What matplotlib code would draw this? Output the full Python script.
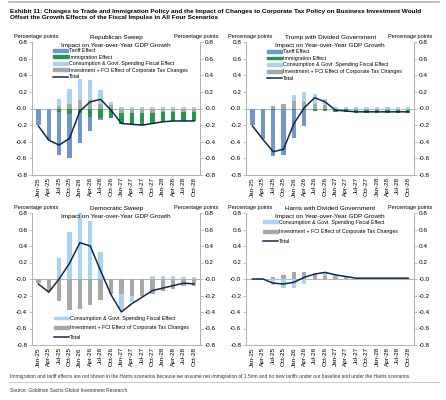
import numpy as np
import matplotlib
matplotlib.use("Agg")
from matplotlib import pyplot as plt
from matplotlib import font_manager
from matplotlib.patches import Patch
from matplotlib.lines import Line2D

plt.rcParams['font.family'] = ['Liberation Sans', 'DejaVu Sans']

quarters = ['Jan-25', 'Apr-25', 'Jul-25', 'Oct-25', 'Jan-26', 'Apr-26', 'Jul-26', 'Oct-26',
            'Jan-27', 'Apr-27', 'Jul-27', 'Oct-27', 'Jan-28', 'Apr-28', 'Jul-28', 'Oct-28']

# Republican Sweep
rep_tariff = [-0.19, -0.37, -0.52, -0.52, -0.35, -0.17, -0.02, 0, 0, 0, 0, 0, 0, 0, 0, 0]
rep_immig = [-0.01, -0.01, -0.04, -0.07, -0.06, -0.10, -0.12, -0.12, -0.14, -0.15, -0.15, -0.13, -0.12, -0.11, -0.11, -0.11]
rep_cons = [0, 0, 0.09, 0.17, 0.25, 0.24, 0.16, 0.04, 0.02, 0.02, 0.02, 0.02, 0.02, 0.02, 0.02, 0.02]
rep_inv = [0, 0, 0.03, 0.06, 0.10, 0.10, 0.06, 0.04, -0.05, -0.05, -0.05, -0.05, -0.04, -0.04, -0.04, -0.04]
rep_total = [-0.21, -0.38, -0.44, -0.36, -0.03, 0.08, 0.11, -0.02, -0.18, -0.19, -0.20, -0.18, -0.16, -0.15, -0.15, -0.15]

# Trump with Divided Government
tdg_tariff = [-0.20, -0.37, -0.55, -0.55, -0.34, -0.19, 0, 0, 0, 0, 0, 0, 0, 0, 0, 0]
tdg_immig = [0, 0, -0.02, -0.01, -0.02, -0.02, -0.03, -0.03, -0.03, -0.03, -0.03, -0.03, -0.03, -0.03, -0.03, -0.03]
tdg_cons = [0, 0, 0, 0, 0.07, 0.12, 0.11, 0.08, 0.02, 0.02, 0.02, 0.02, 0.02, 0.02, 0.02, 0.02]
tdg_inv = [0, 0, 0.03, 0.05, 0.09, 0.08, 0.06, 0.04, -0.01, -0.01, -0.02, -0.02, -0.02, -0.02, -0.02, -0.02]
tdg_total = [-0.21, -0.37, -0.52, -0.49, -0.18, 0.01, 0.13, 0.08, -0.02, -0.03, -0.04, -0.04, -0.04, -0.04, -0.04, -0.04]

# Democratic Sweep
dem_cons = [0, 0, 0.26, 0.57, 0.80, 0.70, 0.33, 0, -0.20, -0.08, 0, 0.04, 0.04, 0.04, 0.03, 0.03]
dem_inv = [-0.05, -0.14, -0.27, -0.38, -0.36, -0.31, -0.25, -0.18, -0.18, -0.20, -0.20, -0.18, -0.15, -0.12, -0.08, -0.08]
dem_total = [-0.06, -0.16, 0.00, 0.19, 0.44, 0.40, 0.10, -0.19, -0.40, -0.30, -0.22, -0.14, -0.11, -0.08, -0.05, -0.06]

# Harris with Divided Government
har_cons = [0, 0, -0.07, -0.11, -0.11, -0.06, 0, 0.04, 0.03, 0.02, 0.01, 0.01, 0.01, 0.01, 0.01, 0.01]
har_inv = [0, 0, 0.03, 0.05, 0.08, 0.08, 0.06, 0.04, 0.02, 0.01, 0, 0, 0, 0, 0, 0]
har_total = [0, 0, -0.05, -0.06, -0.04, 0.02, 0.06, 0.08, 0.05, 0.03, 0.01, 0.01, 0.01, 0.01, 0.01, 0.01]

c_tariff = '#7097CA'
c_immig = '#1F9A4B'
c_cons = '#A8D4F2'
c_inv = '#A8A8A8'
c_total = '#0E2A4B'
c_axis = '#A6A6A6'

lab_tariff = 'Tariff Effect'
lab_immig = 'Immigration Effect'
lab_cons = 'Consumption & Govt. Spending Fiscal Effect'
lab_inv = 'Investment + FCI Effect of Corporate Tax Changes'
lab_total = 'Total'

# narrow bold face for the exhibit title if there is one
try:
    font_manager.findfont('Liberation Sans Narrow', fallback_to_default=False)
    title_family, title_size = 'Liberation Sans Narrow', 5.6
except Exception:
    title_family, title_size = 'Liberation Sans', 4.6

fs = 4.6
fs_leg = 3.8
fig = plt.figure(figsize=(4.46, 4.0), dpi=100)


def panel(rect, series, total, title, legend_items, legend_xy, spacing):
    ax = fig.add_axes(rect)
    x = np.arange(len(quarters))
    pos = np.zeros(len(x))
    neg = np.zeros(len(x))
    for vals, col in series:
        v = np.array(vals, dtype=float)
        bottom = np.where(v >= 0, pos, neg)
        ax.bar(x, v, width=0.42, bottom=bottom, color=col, zorder=2)
        pos = pos + np.where(v >= 0, v, 0)
        neg = neg + np.where(v < 0, v, 0)
    ax.axhline(0, color=c_axis, lw=0.6, zorder=1)
    ax.plot(x, total, color=c_total, lw=1.1, zorder=3)
    ax.set_xlim(-0.6, len(x) - 0.4)
    ax.set_ylim(-0.8, 0.8)
    ticks = np.arange(-0.8, 0.81, 0.2)
    ax.set_yticks(ticks)
    ax.set_yticklabels(['%.1f' % t for t in ticks], fontsize=fs)
    ax.set_xticks(x)
    ax.set_xticklabels(quarters, rotation=90, fontsize=fs)
    ax.tick_params(axis='x', length=0, pad=1.5)
    ax.tick_params(axis='y', length=2, width=0.5, color=c_axis, pad=1.5)
    ax.spines['top'].set_visible(False)
    for s in ['left', 'right', 'bottom']:
        ax.spines[s].set_color(c_axis)
        ax.spines[s].set_linewidth(0.6)
    ax2 = ax.twinx()
    ax2.set_ylim(-0.8, 0.8)
    ax2.set_yticks(ticks)
    ax2.set_yticklabels(['%.1f' % t for t in ticks], fontsize=fs)
    ax2.tick_params(axis='y', length=2, width=0.5, color=c_axis, pad=1.5)
    for s in ax2.spines:
        ax2.spines[s].set_visible(False)
    handles = []
    for lab, col in legend_items:
        if lab == lab_total:
            handles.append(Line2D([0], [0], color=col, lw=1.1))
        else:
            handles.append(Patch(color=col))
    ax.legend(handles, [l for l, c in legend_items], loc='upper left', bbox_to_anchor=legend_xy,
              fontsize=fs_leg, frameon=False, handlelength=2.8, handleheight=0.45, labelspacing=spacing,
              handletextpad=0.25, borderaxespad=0, borderpad=0)
    # titles and unit labels
    l, b, w, h = rect
    top = b + h
    fig.text(l + w / 2, top + 0.004, title, ha='center', va='bottom', fontsize=fs)
    fig.text(l + w / 2, top - 0.014, 'Impact on Year-over-Year GDP Growth', ha='center',
             va='bottom', fontsize=fs)
    fig.text(l - 0.04, top + 0.008, 'Percentage points', ha='left', va='bottom', fontsize=4.0)
    fig.text(l + w + 0.04, top + 0.008, 'Percentage points', ha='right', va='bottom', fontsize=4.0)
    return ax


all5 = [(lab_tariff, c_tariff), (lab_immig, c_immig), (lab_cons, c_cons), (lab_inv, c_inv), (lab_total, c_total)]
three = [(lab_cons, c_cons), (lab_inv, c_inv), (lab_total, c_total)]

panel([0.072, 0.5625, 0.377, 0.3325],
      [(rep_inv, c_inv), (rep_immig, c_immig), (rep_cons, c_cons), (rep_tariff, c_tariff)],
      rep_total, 'Republican Sweep', all5, (0.125, 0.955), 0.3)
panel([0.552, 0.5625, 0.377, 0.3325],
      [(tdg_inv, c_inv), (tdg_immig, c_immig), (tdg_cons, c_cons), (tdg_tariff, c_tariff)],
      tdg_total, 'Trump with Divided Government', all5, (0.125, 0.945), 0.3)
panel([0.072, 0.1375, 0.377, 0.33],
      [(dem_inv, c_inv), (dem_cons, c_cons)],
      dem_total, 'Democratic Sweep', three, (0.13, 0.22), 0.85)
panel([0.552, 0.1375, 0.377, 0.33],
      [(har_inv, c_inv), (har_cons, c_cons)],
      har_total, 'Harris with Divided Government', three, (0.1, 0.95), 0.85)

fig.add_artist(Line2D([0.02, 0.985], [0.995, 0.995], color='#B0B0B0', lw=1.2))
fig.text(0.022, 0.978, 'Exhibit 11: Changes to Trade and Immigration Policy and the Impact of Changes to '
         'Corporate Tax Policy on Business Investment Would\nOffset the Growth Effects of the Fiscal '
         'Impulse in All Four Scenarios', ha='left', va='top', fontsize=title_size, fontweight='bold',
         family=title_family, linespacing=1.35)
fig.text(0.022, 0.058, 'Immigration and tariff effects are not shown in the Harris scenarios because we '
         'assume net immigration of 1.5mn and no new tariffs under our baseline and under the Harris scenarios.',
         ha='left', va='center', fontsize=3.5, color='#333333')
fig.add_artist(Line2D([0.02, 0.985], [0.045, 0.045], color='#B0B0B0', lw=0.5))
fig.text(0.022, 0.025, 'Source: Goldman Sachs Global Investment Research', ha='left', va='center',
         fontsize=3.5, color='#333333')

fig.savefig('out.png', dpi=100)
